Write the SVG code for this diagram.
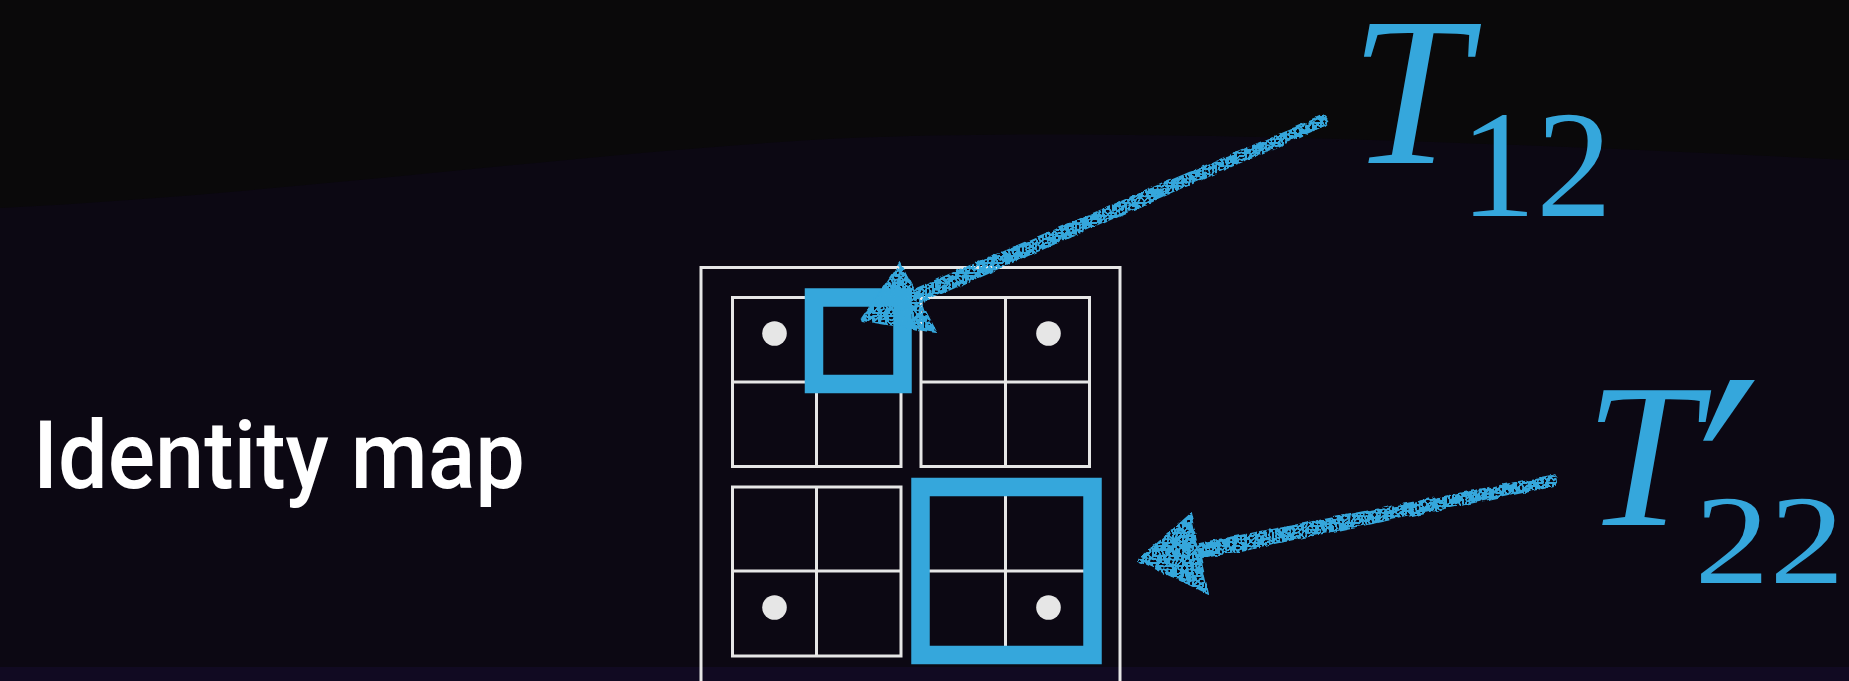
<svg xmlns="http://www.w3.org/2000/svg" width="1849" height="681" viewBox="0 0 1849 681">
  <defs>
    <style>
      .grid { fill: none; stroke: #e6e6e6; stroke-width: 3; }
      .dot { fill: #e6e6e6; }
      .hl { fill: none; stroke: #35a7dc; stroke-width: 18.5; }
      .chalk { fill: #35a7dc; stroke: #35a7dc; stroke-width: 2; stroke-linejoin: round; }
      .math { fill: #35a7dc; font-family: "Liberation Serif", "Times New Roman", serif; }
      .label { fill: #ffffff; font-family: Roboto, "Liberation Sans", sans-serif; font-weight: 500; }
    </style>
    <filter id="rough" x="-10%" y="-20%" width="120%" height="140%">
      <feTurbulence type="fractalNoise" baseFrequency="0.09" numOctaves="2" seed="3" result="n"/>
      <feDisplacementMap in="SourceGraphic" in2="n" scale="5" xChannelSelector="R" yChannelSelector="G" result="d"/>
      <feTurbulence type="turbulence" baseFrequency="0.3" numOctaves="1" seed="7" result="s"/>
      <feColorMatrix in="s" type="matrix" values="0 0 0 0 0  0 0 0 0 0  0 0 0 0 0  0 0 0 -9 3.4" result="m"/>
      <feComposite in="d" in2="m" operator="in"/>
    </filter>
  </defs>

  <!-- background -->
  <rect x="0" y="0" width="1849" height="681" fill="#0a090a"/>
  <path d="M0,208 C300,193 600,150 850,138 C1100,128 1450,140 1849,160 L1849,681 L0,681 Z" fill="#0c0813"/>
  <rect x="0" y="667" width="1849" height="14" fill="#110a22"/>

  <g id="label-identity">
    <text class="label" x="33" y="488" font-size="94" textLength="492" lengthAdjust="spacingAndGlyphs">Identity map</text>
  </g>

  <g id="matrix">
    <rect class="grid" x="701" y="267.5" width="419" height="430"/>
  </g>
  <g id="block-11">
    <rect class="grid" x="732.5" y="297.5" width="168.5" height="169"/>
    <line class="grid" x1="816.5" y1="297.5" x2="816.5" y2="466.5"/>
    <line class="grid" x1="732.5" y1="382" x2="901" y2="382"/>
    <circle class="dot" cx="774.5" cy="333.5" r="12.3"/>
  </g>
  <g id="block-12">
    <rect class="grid" x="921" y="297.5" width="168.5" height="169"/>
    <line class="grid" x1="1005.5" y1="297.5" x2="1005.5" y2="466.5"/>
    <line class="grid" x1="921" y1="382" x2="1089.5" y2="382"/>
    <circle class="dot" cx="1048.5" cy="333.5" r="12.3"/>
  </g>
  <g id="block-21">
    <rect class="grid" x="732.5" y="487" width="168.5" height="169"/>
    <line class="grid" x1="816.5" y1="487" x2="816.5" y2="656"/>
    <line class="grid" x1="732.5" y1="571" x2="901" y2="571"/>
    <circle class="dot" cx="774.5" cy="607.5" r="12.3"/>
  </g>
  <g id="block-22">
    <rect class="grid" x="921" y="487" width="168.5" height="169"/>
    <line class="grid" x1="1005.5" y1="487" x2="1005.5" y2="656"/>
    <line class="grid" x1="921" y1="571" x2="1089.5" y2="571"/>
    <circle class="dot" cx="1048.5" cy="607.5" r="12.3"/>
  </g>

  <g id="highlight-T12">
    <rect class="hl" x="814" y="297.5" width="88.5" height="86.5"/>
  </g>
  <g id="highlight-T22">
    <rect class="hl" x="920.5" y="487" width="172" height="168"/>
  </g>

  <g id="connectors" filter="url(#rough)">
    <path class="chalk" d="M1324.8,125.1 L917.8,303.4 L912.2,290.6 L1321.2,116.9 A4.5,4.5 0 0 1 1324.8,125.1 Z"/>
    <polygon class="chalk" points="900,263 862,320 936,332"/>
    <path class="chalk" d="M1553,485.9 L1201.4,557.9 L1198.6,544.1 L1551,476.1 A5,5 0 0 1 1553,485.9 Z"/>
    <polygon class="chalk" points="1190,514 1138,560 1208,593"/>
  </g>

  <g id="label-T12">
    <text class="math" x="1350" y="163" font-size="213" font-style="italic">T</text>
    <text class="math" x="1460" y="216" font-size="152">12</text>
  </g>
  <g id="label-T22p">
    <text class="math" x="1584.5" y="525" font-size="206" font-style="italic">T</text>
    <text class="math" transform="translate(1653,549) skewX(-19)" x="0" y="0" font-size="258">′</text>
    <text class="math" transform="translate(1694.5,583) scale(1.19,1)" x="0" y="0" font-size="126">22</text>
  </g>
</svg>
